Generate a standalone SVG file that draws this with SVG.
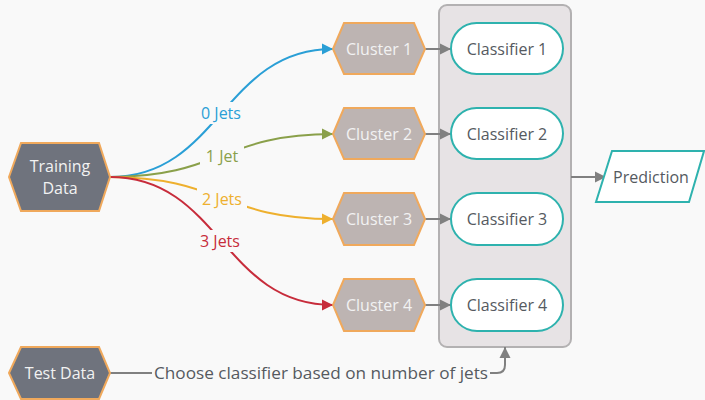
<svg xmlns="http://www.w3.org/2000/svg" width="705" height="400" viewBox="0 0 705 400">
<style>
text{font-family:"Open Sans","Noto Sans","DejaVu Sans",sans-serif;font-size:16px;text-anchor:middle;dominant-baseline:central}
.hexd{fill:#6f737d;stroke:#f0a95c;stroke-width:2}
.hexc{fill:#bdb4b2;stroke:#f0a95c;stroke-width:2}
.cls{fill:#ffffff;stroke:#2eb2ae;stroke-width:2}
.wt{fill:#f2f2f2}
.gt{fill:#555a5f}
.gl{fill:none;stroke:#808080;stroke-width:2}
.c{fill:none;stroke-width:2}
.lb{fill:#f9f9f9}
</style>
<defs>
<marker id="ag" markerUnits="userSpaceOnUse" markerWidth="12" markerHeight="12" refX="11" refY="6" orient="auto"><path d="M0,0.5 L11,6 L0,11.5 Z" fill="#808080"/></marker>
<marker id="ab" markerUnits="userSpaceOnUse" markerWidth="12" markerHeight="12" refX="11" refY="6" orient="auto"><path d="M0,0.5 L11,6 L0,11.5 Z" fill="#2a9fd6"/></marker>
<marker id="ao" markerUnits="userSpaceOnUse" markerWidth="12" markerHeight="12" refX="11" refY="6" orient="auto"><path d="M0,0.5 L11,6 L0,11.5 Z" fill="#8aa04a"/></marker>
<marker id="ay" markerUnits="userSpaceOnUse" markerWidth="12" markerHeight="12" refX="11" refY="6" orient="auto"><path d="M0,0.5 L11,6 L0,11.5 Z" fill="#eeb02e"/></marker>
<marker id="ar" markerUnits="userSpaceOnUse" markerWidth="12" markerHeight="12" refX="11" refY="6" orient="auto"><path d="M0,0.5 L11,6 L0,11.5 Z" fill="#c72c3b"/></marker>
</defs>
<rect x="0" y="0" width="705" height="400" fill="#f9f9f9"/>
<g id="container">
<rect x="439" y="5" width="132" height="342" rx="8" fill="#e7e3e5" stroke="#b3b1b2" stroke-width="2"/>
</g>
<g id="connectors">
<path class="c" stroke="#2a9fd6" d="M110,177 C220,177 223,49 333,49" marker-end="url(#ab)"/>
<path class="c" stroke="#8aa04a" d="M110,177 C220,177 223,134 333,134" marker-end="url(#ao)"/>
<path class="c" stroke="#eeb02e" d="M110,177 C220,177 223,219 333,219" marker-end="url(#ay)"/>
<path class="c" stroke="#c72c3b" d="M110,177 C220,177 223,305 333,305" marker-end="url(#ar)"/>
<rect class="lb" x="196" y="102" width="50" height="22"/>
<rect class="lb" x="200" y="145" width="44" height="22"/>
<rect class="lb" x="197" y="188" width="50" height="22"/>
<rect class="lb" x="195" y="230" width="50" height="22"/>
<text x="221" y="113" fill="#2a9fd6">0 Jets</text>
<text x="222" y="156" fill="#8aa04a">1 Jet</text>
<text x="222" y="199" fill="#eeb02e">2 Jets</text>
<text x="220" y="241" fill="#c72c3b">3 Jets</text>
<path class="gl" d="M425,49 L451,49" marker-end="url(#ag)"/>
<path class="gl" d="M425,134 L451,134" marker-end="url(#ag)"/>
<path class="gl" d="M425,219 L451,219" marker-end="url(#ag)"/>
<path class="gl" d="M425,305 L451,305" marker-end="url(#ag)"/>
<path class="gl" d="M571,177 L606,177" marker-end="url(#ag)"/>
<path class="gl" d="M110,373 L152,373"/>
<path class="gl" d="M490,373 L497,373 Q505,373 505,365 L505,347" marker-end="url(#ag)"/>
<text x="154" y="373" class="gt" style="text-anchor:start" textLength="334" lengthAdjust="spacingAndGlyphs">Choose classifier based on number of jets</text>
</g>
<g id="training-data">
<polygon class="hexd" points="9,177 21,143 99,143 110,177 99,211 21,211"/>
<text x="60" y="166" class="wt">Training</text>
<text x="60" y="188" class="wt">Data</text>
</g>
<g id="test-data">
<polygon class="hexd" points="9,373 21,347 99,347 110,373 99,399 21,399"/>
<text x="60" y="373" class="wt">Test Data</text>
</g>
<g id="cluster-1">
<polygon class="hexc" points="333,49 344,23 414,23 425,49 414,74 344,74"/>
<text x="379" y="49" class="wt">Cluster 1</text>
</g>
<g id="cluster-2">
<polygon class="hexc" points="333,134 344,108 414,108 425,134 414,159 344,159"/>
<text x="379" y="134" class="wt">Cluster 2</text>
</g>
<g id="cluster-3">
<polygon class="hexc" points="333,219 344,193 414,193 425,219 414,245 344,245"/>
<text x="379" y="219" class="wt">Cluster 3</text>
</g>
<g id="cluster-4">
<polygon class="hexc" points="333,305 344,279 414,279 425,305 414,331 344,331"/>
<text x="379" y="305" class="wt">Cluster 4</text>
</g>
<g id="classifier-1">
<rect class="cls" x="451" y="23" width="112" height="51" rx="25.5"/>
<text x="507" y="49" class="gt">Classifier 1</text>
</g>
<g id="classifier-2">
<rect class="cls" x="451" y="108" width="112" height="51" rx="25.5"/>
<text x="507" y="134" class="gt">Classifier 2</text>
</g>
<g id="classifier-3">
<rect class="cls" x="451" y="193" width="112" height="52" rx="26"/>
<text x="507" y="219" class="gt">Classifier 3</text>
</g>
<g id="classifier-4">
<rect class="cls" x="451" y="279" width="112" height="52" rx="26"/>
<text x="507" y="305" class="gt">Classifier 4</text>
</g>
<g id="prediction">
<polygon points="612,151 704,151 689,202 596,202" fill="#ffffff" stroke="#2eb2ae" stroke-width="2"/>
<text x="651" y="177" class="gt">Prediction</text>
</g>
</svg>
